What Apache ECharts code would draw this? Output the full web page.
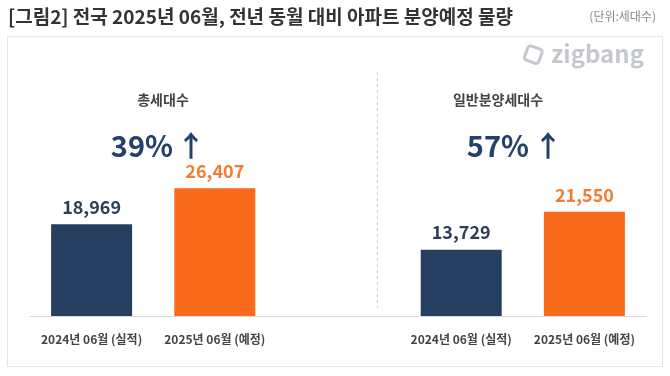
<!DOCTYPE html>
<html>
<head>
<meta charset="utf-8">
<script src="https://cdn.jsdelivr.net/npm/echarts@6/dist/echarts.min.js"></script>
<style>
  html, body { margin: 0; padding: 0; background: #fff; }
  #main { width: 670px; height: 376px; }
</style>
</head>
<body>
<div id="main"></div>
<script>
var categories = ['2024년 06월 (실적)', '2025년 06월 (예정)', '', '2024년 06월 (실적)', '2025년 06월 (예정)'];
var prevValues = [18969, '-', '-', 13729, '-'];
var nextValues = ['-', 26407, '-', '-', 21550];
var panelTitles = ['총세대수', '일반분양세대수'];
var growthTexts = ['39%', '57%'];

var navy = '#263f61';
var orange = '#f96a1c';
var font = '"Noto Sans CJK KR", "Noto Sans", sans-serif';

var chartDom = document.getElementById('main');
var myChart = echarts.init(chartDom);
var option;

option = {
  backgroundColor: '#fff',
  textStyle: { fontFamily: font },
  grid: {
    left: 30,
    right: 24,
    top: 171,
    bottom: 60
  },
  xAxis: {
    type: 'category',
    data: categories,
    axisLine: { lineStyle: { color: '#d9d9d9', width: 1 } },
    axisTick: { show: false },
    axisLabel: {
      interval: 0,
      color: '#444',
      fontSize: 12,
      fontWeight: 'bold',
      margin: 17,
      fontFamily: font
    }
  },
  yAxis: {
    type: 'value',
    min: 0,
    max: 30000,
    show: false,
    splitLine: { show: false }
  },
  series: [
    {
      type: 'bar',
      stack: 'a',
      data: prevValues,
      barWidth: 81,
      itemStyle: { color: navy },
      label: {
        show: true,
        position: 'top',
        distance: 8,
        formatter: function (p) { return p.value.toLocaleString('en-US'); },
        color: '#2d3e57',
        fontSize: 18,
        fontWeight: 'bold',
        fontFamily: font
      }
    },
    {
      type: 'bar',
      stack: 'a',
      data: nextValues,
      barWidth: 81,
      itemStyle: { color: orange },
      label: {
        show: true,
        position: 'top',
        distance: 8,
        formatter: function (p) { return p.value.toLocaleString('en-US'); },
        color: '#ef7d35',
        fontSize: 18,
        fontWeight: 'bold',
        fontFamily: font
      }
    }
  ],
  graphic: [
    {
      type: 'text', left: 8, top: 7,
      style: { text: '[그림2] 전국 2025년 06월, 전년 동월 대비 아파트 분양예정 물량', fill: '#333', font: 'bold 19px ' + font }
    },
    {
      type: 'text', right: 14, top: 10,
      style: { text: '(단위:세대수)', fill: '#888', font: '12px ' + font }
    },
    {
      type: 'rect', shape: { x: 7.5, y: 36.5, width: 655, height: 330 },
      style: { fill: 'none', stroke: '#e6e6e6', lineWidth: 1 }, z: -1
    },
    {
      type: 'rect', shape: { x: 526, y: 47, width: 15, height: 15, r: 3 },
      rotation: -0.35, originX: 533, originY: 54,
      style: { fill: 'none', stroke: '#c4c7cc', lineWidth: 3 }
    },
    {
      type: 'text', right: 26, top: 42,
      style: { text: 'zigbang', fill: '#c4c7cc', font: 'bold 24px ' + font }
    },
    {
      type: 'line', shape: { x1: 377.5, y1: 72, x2: 377.5, y2: 308 },
      style: { stroke: '#cfcfcf', lineWidth: 1, lineDash: [3, 3] }
    },
    {
      type: 'text', x: 163, y: 100,
      style: { text: panelTitles[0], fill: '#444', font: 'bold 14px ' + font, textAlign: 'center', textVerticalAlign: 'middle' }
    },
    {
      type: 'text', x: 498, y: 100,
      style: { text: panelTitles[1], fill: '#444', font: 'bold 14px ' + font, textAlign: 'center', textVerticalAlign: 'middle' }
    },
    {
      type: 'text', x: 173, y: 146,
      style: { text: growthTexts[0], fill: '#24416b', font: 'bold 29px ' + font, textAlign: 'right', textVerticalAlign: 'middle' }
    },
    {
      type: 'text', x: 191, y: 146,
      style: { text: '↑', fill: '#24416b', font: 'bold 29px ' + font, textAlign: 'center', textVerticalAlign: 'middle' }
    },
    {
      type: 'text', x: 529, y: 146,
      style: { text: growthTexts[1], fill: '#24416b', font: 'bold 29px ' + font, textAlign: 'right', textVerticalAlign: 'middle' }
    },
    {
      type: 'text', x: 548, y: 146,
      style: { text: '↑', fill: '#24416b', font: 'bold 29px ' + font, textAlign: 'center', textVerticalAlign: 'middle' }
    }
  ]
};

option && myChart.setOption(option);
</script>
</body>
</html>
